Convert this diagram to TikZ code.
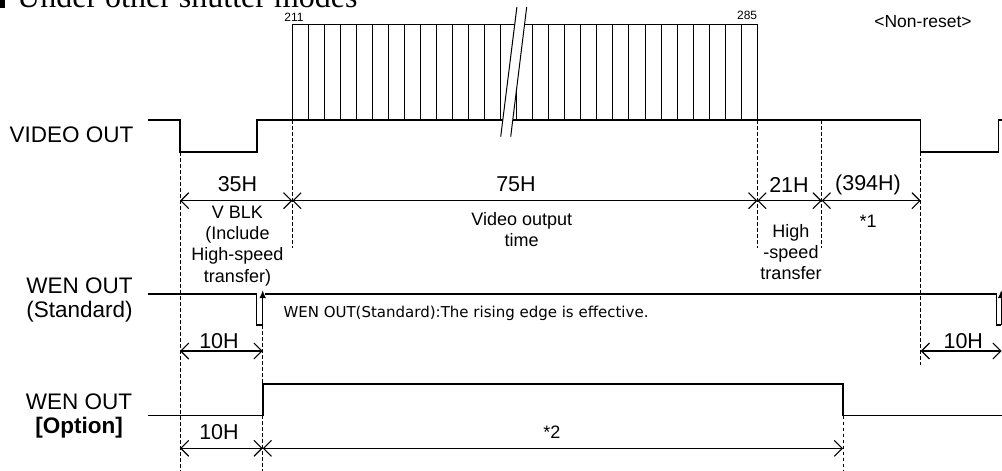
\documentclass[tikz,border=0pt]{standalone}
\usepackage{fontspec}
\setmainfont{Liberation Sans}
\newfontfamily\ttlfont{Liberation Serif}
\newfontfamily\notefont{DejaVu Sans}
\usetikzlibrary{arrows.meta}
\tikzset{
  sig/.style={line width=1.3pt,line join=miter},
  comb/.style={line width=0.9pt},
  guide/.style={line width=0.9pt,dash pattern=on 3.5pt off 2.5pt},
  dim/.style={line width=1.1pt,{Straight Barb[length=8pt,width=16pt]}-{Straight Barb[length=8pt,width=16pt]}},
  riseedge/.style={line width=1.3pt,-{Latex[length=8pt,width=6.5pt]}},
  siglab/.style={font=\fontsize{22.5}{24.5}\selectfont,align=center,inner sep=0pt},
  hlab/.style={font=\fontsize{21.5}{24}\selectfont,inner sep=0pt},
  sublab/.style={font=\fontsize{18}{21.3}\selectfont,align=center,inner sep=0pt},
  numlab/.style={font=\fontsize{12}{13}\selectfont,inner sep=0pt},
  notelab/.style={font=\notefont\fontsize{15}{16}\selectfont,inner sep=0pt}
}
\begin{document}
\begin{tikzpicture}[x=1pt,y=-1pt]
  \useasboundingbox (0,0) rectangle (1002,471);
  % title (cut at the top edge)
  \fill (-3,-4) rectangle (5,8);
  \node[anchor=base west,inner sep=0pt,font=\ttlfont\fontsize{32}{34}\selectfont] (ttl) at (17,8) {Under other shutter modes};
  \node[font=\fontsize{17.5}{20}\selectfont,inner sep=0pt] (nrst) at (923,21.7) {<Non-reset>};

  % VIDEO OUT
  \node[siglab] (vlab) at (71.5,135) {VIDEO OUT};
  \draw[sig] (148,120) -- (180,120) -- (180,152) -- (257,152) -- (257,120) -- (920.7,120)
    -- (920.7,152) -- (998.3,152) -- (998.3,120) -- (1005,120);
  \draw[comb] (292.3,24.3) -- (757.3,24.3);
  \foreach \k in {0,...,29} \draw[comb] (292.3+16.03*\k,120) -- (292.3+16.03*\k,24.3);
  \fill[white] (500.7,136.7) -- (516.9,7) -- (526.7,7) -- (510.7,136.7) -- cycle;
  \draw[line width=1pt] (500.7,136.7) -- (516.9,7) (510.7,136.7) -- (526.7,7);
  \node[numlab] (n211) at (294,17.5) {211};
  \node[numlab,anchor=east] (n285) at (757.3,15.5) {285};

  % guides
  \draw[guide] (180,152) -- (180,471);
  \draw[guide] (292.3,120) -- (292.3,248);
  \draw[guide] (757.3,120) -- (757.3,248);
  \draw[guide] (821.7,120) -- (821.7,248);
  \draw[guide] (920.7,152) -- (920.7,365);
  \draw[guide] (262.7,325) -- (262.7,471);
  \draw[guide] (843,415.7) -- (843,471);

  % periods
  \draw[dim] (180,200.7) -- (292.3,200.7);
  \draw[dim] (292.3,200.7) -- (757.3,200.7);
  \draw[dim] (757.3,200.7) -- (821.7,200.7);
  \draw[dim] (821.7,200.7) -- (920.7,200.7);
  \node[hlab] (h35) at (237.5,184.5) {35H};
  \node[hlab] (h75) at (516,184.5) {75H};
  \node[hlab] (h21) at (789,184.5) {21H};
  \node[hlab] (h394) at (868,184.5) {(394H)};
  \node[sublab] (vblk) at (237.5,246) {V BLK\\(Include\\High-speed\\transfer)};
  \node[sublab] (vout) at (521.7,229.5) {Video output\\time};
  \node[sublab] (hst) at (791,252) {High\\-speed\\transfer};
  \node[sublab] (st1) at (868,221.5) {*1};

  % WEN OUT (Standard)
  \node[siglab] (wslab) at (79.5,300) {WEN OUT\\(Standard)};
  \draw[sig] (148,294) -- (256.7,294) -- (256.7,325) -- (262.7,325);
  \draw[riseedge] (262.7,325) -- (262.7,290);
  \draw[sig] (264.5,294) -- (996.7,294) -- (996.7,325) -- (1001.2,325);
  \draw[riseedge] (1001.2,325) -- (1001.2,290);
  \node[notelab,anchor=west] (note) at (283.3,313.5) {WEN OUT(Standard):The rising edge is effective.};
  \draw[dim] (180,351) -- (262.7,351);
  \draw[dim] (920.7,351) -- (1001.7,351);
  \node[hlab] (h10a) at (219,341) {10H};
  \node[hlab] (h10b) at (963.3,341) {10H};

  % WEN OUT [Option]
  \node[siglab] (wolab) at (79,416) {WEN OUT\\\textbf{[Option]}};
  \draw[sig] (148,415.7) -- (263,415.7) -- (263,384) -- (843,384) -- (843,415.7) -- (1005,415.7);
  \draw[dim] (180,448.3) -- (262.7,448.3);
  \draw[dim] (262.7,448.3) -- (843,448.3);
  \node[hlab] (h10c) at (219,432.5) {10H};
  \node[sublab] (st2) at (552,432) {*2};
\end{tikzpicture}
\end{document}
